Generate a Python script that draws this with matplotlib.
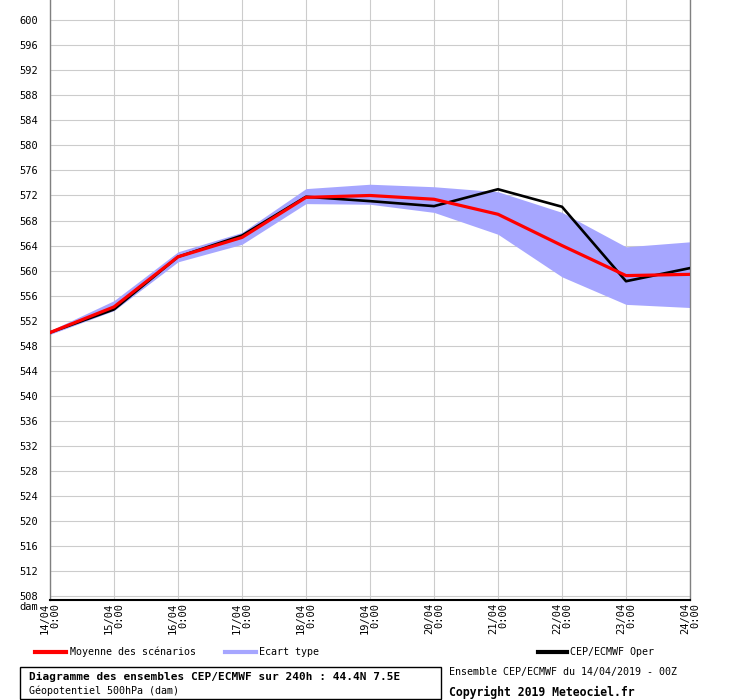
import matplotlib
matplotlib.use("Agg")
import matplotlib.pyplot as plt
from matplotlib.lines import Line2D
from matplotlib.patches import Rectangle

# ---- data ----
dates = ["14/04", "15/04", "16/04", "17/04", "18/04", "19/04",
         "20/04", "21/04", "22/04", "23/04", "24/04"]
hours = ["0:00"] * 11
mean_vals = [550.1, 554.2, 562.2, 565.3, 571.7, 572.0, 571.4, 569.0, 564.0, 559.2, 559.4]
oper_vals = [550.1, 553.8, 562.2, 565.6, 571.8, 571.1, 570.3, 573.0, 570.2, 558.3, 560.4]
band_upper = [550.4, 555.2, 563.0, 566.1, 573.1, 573.8, 573.4, 572.6, 569.3, 563.8, 564.6]
band_lower = [549.8, 553.6, 561.4, 564.2, 570.7, 570.6, 569.3, 565.8, 559.0, 554.6, 554.1]
yticks = list(range(508, 601, 4))

W, H = 740, 700
fig = plt.figure(figsize=(W / 100, H / 100), dpi=100)
ax = fig.add_axes([50 / W, 1 - 600 / H, 640 / W, 600 / H])

mono = "DejaVu Sans Mono"
x = list(range(len(dates)))

ax.fill_between(x, band_lower, band_upper, color="#a6a6ff", lw=0, zorder=2)
ax.plot(x, oper_vals, color="black", lw=1.9, zorder=3)
ax.plot(x, mean_vals, color="#ff0000", lw=2.3, zorder=4)

ax.set_xlim(0, 10)
ax.set_ylim(507.36, 603.24)
ax.set_yticks(yticks)
ax.set_yticklabels([str(v) for v in yticks], fontfamily=mono, fontsize=7.5)
ax.set_xticks(x)
ax.set_xticklabels([f"{d}\n{h}" for d, h in zip(dates, hours)],
                   rotation=90, fontfamily=mono, fontsize=7.5,
                   va="top", ha="center", multialignment="right", linespacing=1.0)
ax.tick_params(axis="both", length=0)
ax.tick_params(axis="y", pad=8.5)
ax.tick_params(axis="x", pad=2)
ax.grid(True, color="#cccccc", lw=0.8, zorder=0)
ax.set_axisbelow(True)

ax.spines["top"].set_visible(False)
ax.spines["left"].set_color("#808080")
ax.spines["right"].set_color("#808080")
ax.spines["left"].set_linewidth(1.0)
ax.spines["right"].set_linewidth(1.0)
ax.spines["bottom"].set_color("black")
ax.spines["bottom"].set_linewidth(1.5)


def fx(px):
    return px / W


def fy(py):
    return 1 - py / H


fig.text(fx(38), fy(607), "dam", ha="right", va="center", fontfamily=mono, fontsize=7.5)

# legend
legend_items = [((35, 66), "#ff0000", 70, "Moyenne des scénarios"),
                ((225, 256), "#a6a6ff", 259, "Ecart type"),
                ((538, 567), "black", 570, "CEP/ECMWF Oper")]
for (x1, x2), col, tx, lab in legend_items:
    fig.add_artist(Line2D([fx(x1), fx(x2)], [fy(652), fy(652)],
                          transform=fig.transFigure, color=col, lw=3))
    fig.text(fx(tx), fy(652), lab, ha="left", va="center",
             fontfamily=mono, fontsize=7.2)

# box
fig.add_artist(Rectangle((fx(20), fy(699)), (441 - 20) / W, (699 - 667) / H,
                         transform=fig.transFigure, fill=False,
                         edgecolor="black", lw=1.0))
fig.text(fx(29), fy(677), "Diagramme des ensembles CEP/ECMWF sur 240h : 44.4N 7.5E",
         ha="left", va="center", fontfamily=mono, fontsize=8.0, fontweight="bold")
fig.text(fx(29), fy(691), "Géopotentiel 500hPa (dam)",
         ha="left", va="center", fontfamily=mono, fontsize=7.2)
fig.text(fx(449), fy(672), "Ensemble CEP/ECMWF du 14/04/2019 - 00Z",
         ha="left", va="center", fontfamily=mono, fontsize=7.2)
fig.text(fx(449), fy(692), "Copyright 2019 Meteociel.fr",
         ha="left", va="center", fontfamily=mono, fontsize=8.3, fontweight="bold")

fig.savefig("out.png", dpi=100)
